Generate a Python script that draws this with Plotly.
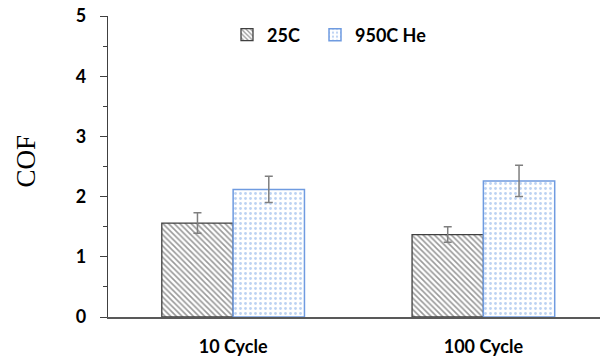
import plotly.graph_objects as go

categories = ["10 Cycle", "100 Cycle"]
series_names = ["25C", "950C He"]
cof_25c = [1.56, 1.37]
err_25c = [0.17, 0.13]
cof_950c = [2.12, 2.26]
err_950c = [0.22, 0.26]
y_ticks = [0, 1, 2, 3, 4, 5]

fig = go.Figure()
fig.add_trace(go.Bar(
    name=series_names[0], x=categories, y=cof_25c, legend="legend",
    error_y=dict(type="data", array=err_25c, color="#7f7f7f", thickness=1.5, width=4),
    marker=dict(color="white", line=dict(color="#404040", width=1.3),
                pattern=dict(shape="\\", fgcolor="#333333", bgcolor="white", size=4, solidity=0.4)),
))
fig.add_trace(go.Bar(
    name=series_names[1], x=categories, y=cof_950c, legend="legend2",
    error_y=dict(type="data", array=err_950c, color="#7f7f7f", thickness=1.5, width=4),
    marker=dict(color="white", line=dict(color="#6f9be0", width=1.5),
                pattern=dict(shape=".", fgcolor="#7aa6e6", bgcolor="white", size=5, solidity=0.25)),
))

W, H = 600, 360
L, T, B, R = 108, 16, 43, 0
PW, PH = W - L - R, H - T - B

legend_font = dict(family="Lato", size=18, weight="bold", color="black")
fig.update_layout(
    width=W, height=H,
    margin=dict(l=L, r=R, t=T, b=B),
    paper_bgcolor="white", plot_bgcolor="white",
    barmode="group", bargap=0.43, bargroupgap=0,
    font=dict(family="Lato", size=14, color="black"),
    showlegend=True,
    legend=dict(orientation="h", x=(227 - L) / PW, y=0.937, xanchor="left", yanchor="middle",
                font=legend_font, bgcolor="rgba(0,0,0,0)"),
    legend2=dict(orientation="h", x=(315 - L) / PW, y=0.937, xanchor="left", yanchor="middle",
                 font=legend_font, bgcolor="rgba(0,0,0,0)"),
    xaxis=dict(range=[-0.5, 1.466], showline=True, linecolor="#595959", linewidth=1.5,
               ticks="", showgrid=False, automargin=False,
               tickfont=dict(family="Lato", size=18, weight="bold"),
               ticklabelstandoff=13),
    yaxis=dict(range=[0, 5], tickvals=y_ticks, showline=True, linecolor="#404040", linewidth=1.2,
               ticks="outside", ticklen=7, tickcolor="#404040", tickwidth=1.2,
               showgrid=False, zeroline=False, automargin=False,
               tickfont=dict(family="Lato", size=18, weight="bold"), ticklabelstandoff=10,
               minor=dict(dtick=0.5, ticks="outside", ticklen=4, tickcolor="#404040", tickwidth=1.2, showgrid=False)),
    annotations=[dict(text="COF", xref="paper", yref="paper", x=(25.5 - L) / PW, y=(317 - 161) / PH,
                      xanchor="center", yanchor="middle", textangle=-90, showarrow=False,
                      font=dict(family="Liberation Serif", size=27, color="black"))],
)

fig.write_html("out.html", config={"displayModeBar": False},
               post_script="document.body.style.margin='0px';")
